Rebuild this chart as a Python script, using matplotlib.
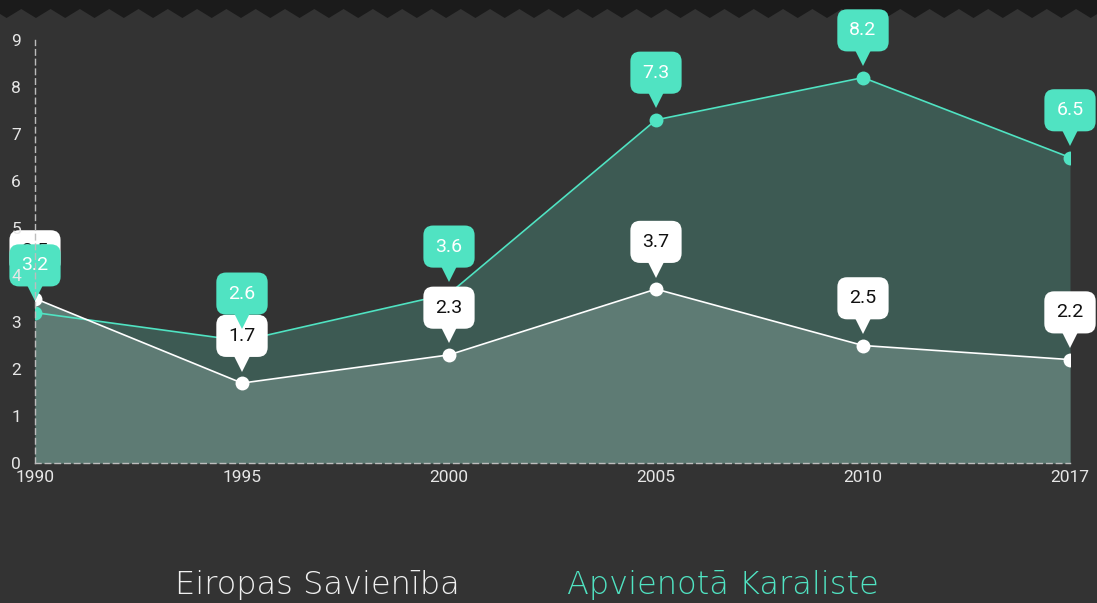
import numpy as np
import matplotlib

matplotlib.use("Agg")
import matplotlib.pyplot as plt
from matplotlib.patches import Polygon
from matplotlib.transforms import offset_copy

# ----------------------------------------------------------------------
# Dados
# ----------------------------------------------------------------------
anos = ["1990", "1995", "2000", "2005", "2010", "2017"]
eiropas_savieniba = [3.5, 1.7, 2.3, 3.7, 2.5, 2.2]
apvienota_karaliste = [3.2, 2.6, 3.6, 7.3, 8.2, 6.5]
nome_es = "Eiropas Savienība"
nome_uk = "Apvienotā Karaliste"

FUNDO = "#333333"
FAIXA = "#1b1b1b"
VERDE = "#50e3c2"
BRANCO = "#ffffff"
AREA_UK = "#3d5a53"
AREA_ES = "#5e7b74"
GRADE = "#bdbdbd"

W, H = 1097, 603
fig = plt.figure(figsize=(W / 100, H / 100), dpi=100, facecolor=FUNDO)
ax = fig.add_axes([35 / W, 1 - 463 / H, (1070 - 35) / W, (463 - 40) / H])
ax.set_facecolor(FUNDO)

x = np.arange(len(anos))

# faixa escura em zigue-zague no topo (atrás de tudo)
px = np.arange(-8, W + 30, 29.3)
topo = [(0, H)]
for p in px:
    topo.append((p, H - 9))
    topo.append((p + 14.6, H - 18))
topo.append((W + 30, H))
fig.patches.append(Polygon([(a / W, b / H) for a, b in topo], closed=True,
                           transform=fig.transFigure, fc=FAIXA, ec="none",
                           zorder=-1))

# áreas
ax.fill_between(x, 0, apvienota_karaliste, color=AREA_UK, lw=0, zorder=1)
ax.fill_between(x, 0, eiropas_savieniba, color=AREA_ES, lw=0, zorder=1.1)
ax.plot(x, apvienota_karaliste, color=VERDE, lw=1.2, zorder=2)
ax.plot(x, eiropas_savieniba, color=BRANCO, lw=1.2, zorder=2.1)
ax.plot(x, apvienota_karaliste, "o", color=VERDE, ms=10, mew=0, zorder=2.2)
ax.plot(x, eiropas_savieniba, "o", color=BRANCO, ms=10, mew=0, zorder=2.3)

# balões com valores
def baloes(valores, cor_fundo, cor_texto, z):
    seta = offset_copy(ax.transData, fig=fig, x=0, y=14, units="points")
    ax.plot(x, valores, "v", color=cor_fundo, ms=11, mew=0, transform=seta,
            clip_on=False, zorder=z)
    for xi, v in zip(x, valores):
        ax.annotate(f"{v}", (xi, v), xytext=(0, 34), textcoords="offset points",
                    ha="center", va="center", fontsize=14, family="Roboto",
                    color=cor_texto, zorder=z + 0.1, annotation_clip=False,
                    bbox=dict(boxstyle="round,pad=0.62,rounding_size=0.5",
                              fc=cor_fundo, ec="none"))

baloes(eiropas_savieniba, BRANCO, "#111111", 4)
baloes(apvienota_karaliste, VERDE, BRANCO, 5)

# eixos
ax.set_xlim(0, len(anos) - 1)
ax.set_ylim(0, 9)
ax.set_xticks(x, anos)
ax.set_yticks(range(10))
for s in ["top", "right"]:
    ax.spines[s].set_visible(False)
for s in ["left", "bottom"]:
    ax.spines[s].set_color(GRADE)
    ax.spines[s].set_linestyle((0, (4, 3)))
    ax.spines[s].set_linewidth(1)
    ax.spines[s].set_zorder(6)
ax.tick_params(length=0, colors="#e6e6e6", labelsize=12.5)
ax.tick_params(axis="y", pad=10)
ax.tick_params(axis="x", pad=5)
for lab in ax.get_xticklabels() + ax.get_yticklabels():
    lab.set_family("Roboto")
ax.xaxis.set_zorder(10)
ax.yaxis.set_zorder(10)

# legenda
fig.text(175 / W, 1 - 585 / H, nome_es, color="#f0f0f0", fontsize=23,
         family="DejaVu Sans", weight="light", ha="left", va="center")
fig.text(567 / W, 1 - 585 / H, nome_uk, color=VERDE, fontsize=23,
         family="DejaVu Sans", weight="light", ha="left", va="center")

fig.savefig("out.png", dpi=100, facecolor=FUNDO)
